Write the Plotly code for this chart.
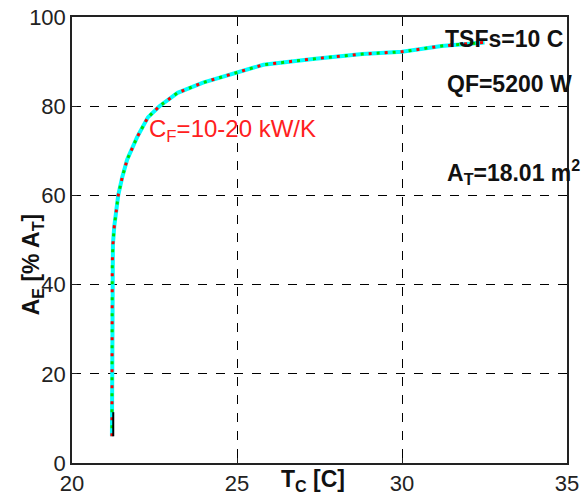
import plotly.graph_objects as go

# Curve data
T_C = [21.21, 21.21, 21.21, 21.22, 21.24, 21.28, 21.35, 21.40, 21.52, 21.67,
       21.97, 22.30, 22.65, 23.20, 23.97, 25.00, 25.80, 27.30, 28.80, 30.00,
       31.20, 32.50]
A_E = [6.0, 20.0, 40.0, 45.0, 49.0, 53.0, 57.0, 60.0, 64.0, 68.0,
       73.0, 77.5, 80.0, 83.0, 85.3, 87.5, 89.3, 90.6, 91.7, 92.2,
       93.5, 94.3]

# short dark segment at the bottom of the curve
T_end = [21.25, 21.25]
A_end = [6.0, 11.4]

x_ticks = [20, 25, 30, 35]
y_ticks = [0, 20, 40, 60, 80, 100]

FONT = "Liberation Sans, Arial, sans-serif"

fig = go.Figure()
fig.add_trace(go.Scatter(x=T_C, y=A_E, mode="lines",
                         line=dict(color="#00ffff", width=4), hoverinfo="skip"))
fig.add_trace(go.Scatter(x=T_C, y=A_E, mode="lines",
                         line=dict(color="#ff0000", width=3, dash="3px,13px"), hoverinfo="skip"))
fig.add_trace(go.Scatter(x=T_C, y=A_E, mode="lines",
                         line=dict(color="#00dd00", width=3, dash="0px,8px,3px,5px"), hoverinfo="skip"))
fig.add_trace(go.Scatter(x=T_end, y=A_end, mode="lines",
                         line=dict(color="#000000", width=2), hoverinfo="skip"))

axis_common = dict(
    showline=True, linecolor="#222222", linewidth=1.5, mirror=True,
    showgrid=True, gridcolor="#000000", griddash="dash", gridwidth=1,
    zeroline=False, ticks="inside", ticklen=5, tickcolor="#222222",
    tickfont=dict(family=FONT, size=22, color="#222222"),
    automargin=False,
)

fig.update_layout(
    width=588, height=504,
    margin=dict(l=72, r=21, t=17, b=41),
    paper_bgcolor="white", plot_bgcolor="white",
    showlegend=False,
    xaxis=dict(range=[20, 35], tickvals=x_ticks, ticktext=[str(v) for v in x_ticks], **axis_common),
    yaxis=dict(range=[0, 100], tickvals=y_ticks, ticktext=[str(v) for v in y_ticks], **axis_common),
)

ann_font_b = dict(family=FONT, size=23, color="#111111")
fig.add_annotation(x=31.24, y=95.1, xref="x", yref="y", xanchor="left", yanchor="middle",
                   text="<b>TSFs=10 C</b>", showarrow=False, font=ann_font_b)
fig.add_annotation(x=31.3, y=85.0, xref="x", yref="y", xanchor="left", yanchor="middle",
                   text="<b>QF=5200 W</b>", showarrow=False, font=ann_font_b)
fig.add_annotation(x=31.3, y=65.3, xref="x", yref="y", xanchor="left", yanchor="middle",
                   text="<b>A<sub>T</sub>=18.01 m<sup>2</sup></b>", showarrow=False, font=ann_font_b)
fig.add_annotation(x=22.27, y=74.5, xref="x", yref="y", xanchor="left", yanchor="middle",
                   text="C<sub>F</sub>=10-20 kW/K", showarrow=False,
                   font=dict(family=FONT, size=24, color="#ff2020"))

# axis titles
fig.add_annotation(x=(313 - 72) / 495, y=-0.002, xref="paper", yref="paper",
                   xanchor="center", yanchor="top",
                   text="<b>T<sub>C</sub> [C]</b>", showarrow=False, font=ann_font_b)
fig.add_annotation(x=-0.079, y=(464 - 265) / 447, xref="paper", yref="paper",
                   xanchor="center", yanchor="middle", textangle=-90,
                   text="<b>A<sub>E</sub> [% A<sub>T</sub>]</b>", showarrow=False, font=ann_font_b)

# remove the default page margin so the figure fills the window exactly
fig.write_html("out.html",
               config={"displayModeBar": False},
               post_script="document.body.style.margin='0';document.body.style.overflow='hidden';")
